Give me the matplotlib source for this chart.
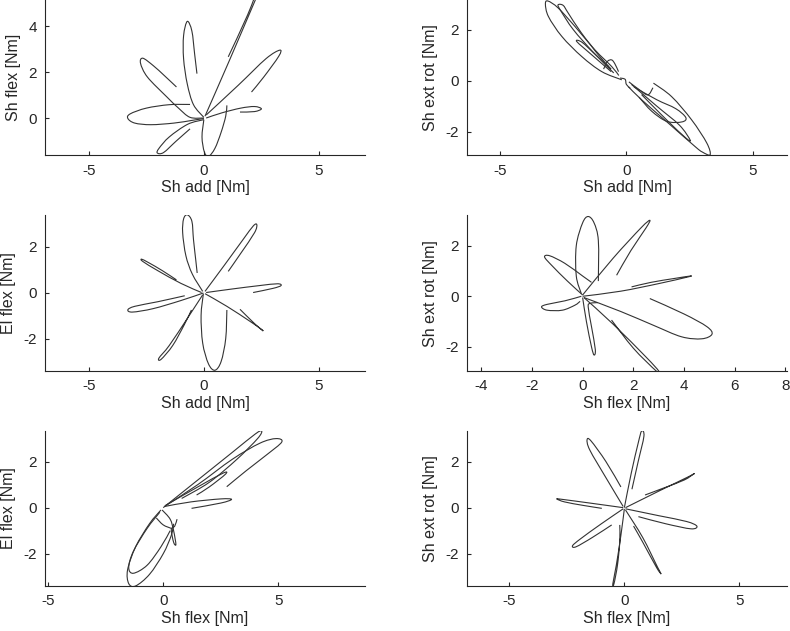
import numpy as np
import matplotlib
matplotlib.use("Agg")
import matplotlib.pyplot as plt
from matplotlib.path import Path
from matplotlib.patches import PathPatch

plt.rcParams['font.family'] = ['Liberation Sans', 'DejaVu Sans']
plt.rcParams['axes.unicode_minus'] = False

# each loop is a list of (x, y) points, in Nm
sh_add_sh_flex = [
    [(0.0, 0.05), (-0.45, 0.6), (-0.72, 1.5), (-0.88, 2.6), (-0.88, 3.6), (-0.72, 4.22), (-0.52, 3.8), (-0.4, 2.8), (-0.3, 1.95)],
    [(0.05, 0.1), (1.1, 2.5), (2.3, 5.3), (2.6, 6.0), (2.45, 5.9), (1.9, 4.5), (1.06, 2.68)],
    [(0.1, 0.15), (1.5, 1.45), (2.7, 2.6), (3.3, 2.97), (3.25, 2.7), (2.6, 1.8), (2.07, 1.15)],
    [(0.1, 0.02), (0.8, 0.25), (1.6, 0.45), (2.2, 0.52), (2.5, 0.42), (2.2, 0.3), (1.57, 0.28)],
    [(0.0, -0.05), (-0.08, -0.8), (0.02, -1.45), (0.2, -1.65), (0.48, -1.3), (0.75, -0.6), (0.95, 0.1), (1.0, 0.57)],
    [(0.0, -0.05), (-0.7, -0.25), (-1.5, -0.8), (-1.95, -1.3), (-2.02, -1.5), (-1.75, -1.48), (-1.2, -0.98), (-0.6, -0.45)],
    [(-0.6, 0.61), (-1.5, 0.6), (-2.5, 0.45), (-3.2, 0.2), (-3.3, 0.0), (-3.0, -0.2), (-2.3, -0.27), (-1.3, -0.2), (-0.5, -0.08), (0.0, 0.0)],
    [(0.0, 0.02), (-0.6, 0.05), (-1.1, 0.45), (-1.6, 0.93), (-2.45, 1.8), (-2.75, 2.4), (-2.65, 2.62), (-2.2, 2.3), (-1.7, 1.85), (-1.19, 1.37)],
]

sh_add_sh_rot = [
    [(-0.3, 0.2), (-0.58, 0.55), (-1.24, 1.2), (-2.03, 2.12), (-2.7, 2.85), (-3.1, 3.12), (-3.2, 3.0), (-3.08, 2.51), (-2.55, 1.73), (-1.76, 0.94), (-0.97, 0.35), (-0.18, 0.03)],
    [(-0.5, 0.3), (-1.3, 1.1), (-2.1, 2.0), (-2.6, 2.75), (-2.7, 2.97), (-2.5, 2.95), (-2.3, 2.65), (-1.8, 1.9), (-1.1, 1.0), (-0.6, 0.45)],
    [(-0.6, 0.35), (-1.3, 0.95), (-1.96, 1.53), (-1.75, 1.5), (-1.2, 1.0), (-0.7, 0.55)],
    [(-0.9, 0.45), (-0.75, 0.75), (-0.58, 0.81), (-0.45, 0.65), (-0.31, 0.35)],
    [(1.07, -0.1), (1.79, -0.63), (2.58, -1.54), (3.18, -2.45), (3.31, -2.91), (3.0, -2.8), (2.72, -2.59), (1.66, -1.67), (0.61, -0.76), (0.08, -0.24)],
    [(0.2, -0.15), (1.2, -1.0), (2.1, -1.75), (2.52, -2.33), (2.35, -2.25), (1.6, -1.55), (0.6, -0.55)],
    [(0.3, -0.25), (1.2, -0.75), (1.95, -1.1), (2.35, -1.45), (2.2, -1.62), (1.6, -1.6), (1.0, -1.2), (0.5, -0.65)],
    [(0.1, -0.05), (0.5, -0.35), (0.85, -0.56), (1.05, -0.28)],
    [(-0.25, 0.1), (-0.05, 0.05), (0.0, -0.15), (0.15, -0.3)],
]

sh_add_el_flex = [
    [(-0.05, 0.05), (-0.5, 0.8), (-0.78, 1.6), (-0.92, 2.6), (-0.88, 3.2), (-0.72, 3.38), (-0.52, 3.1), (-0.45, 2.3), (-0.35, 1.4), (-0.29, 0.85)],
    [(0.05, 0.05), (0.9, 1.2), (1.7, 2.3), (2.15, 2.9), (2.3, 2.95), (2.2, 2.6), (1.6, 1.7), (1.06, 0.92)],
    [(0.1, 0.0), (1.2, 0.15), (2.4, 0.3), (3.2, 0.38), (3.35, 0.3), (3.0, 0.18), (2.14, 0.0)],
    [(0.05, -0.05), (1.0, -0.6), (2.0, -1.25), (2.5, -1.6), (2.55, -1.65), (2.2, -1.35), (1.57, -0.73)],
    [(-0.02, -0.05), (-0.12, -1.0), (-0.05, -2.2), (0.2, -3.1), (0.48, -3.38), (0.75, -3.0), (0.95, -2.0), (1.0, -0.76)],
    [(-0.05, -0.1), (-0.7, -1.1), (-1.5, -2.3), (-1.95, -2.85), (-1.85, -2.9), (-1.35, -2.3), (-0.85, -1.4), (-0.54, -0.76)],
    [(-0.02, -0.02), (-1.0, -0.35), (-2.2, -0.7), (-3.1, -0.85), (-3.3, -0.75), (-3.0, -0.6), (-2.0, -0.4), (-0.83, -0.14)],
    [(-0.1, 0.0), (-1.0, 0.4), (-2.0, 0.95), (-2.65, 1.35), (-2.7, 1.45), (-2.4, 1.3), (-1.8, 0.95), (-1.19, 0.55)],
]

sh_flex_sh_rot = [
    [(-0.05, 0.1), (-0.25, 0.8), (-0.25, 2.0), (0.0, 2.9), (0.22, 3.15), (0.45, 2.9), (0.62, 2.2), (0.62, 0.6)],
    [(0.0, 0.05), (1.2, 1.5), (2.3, 2.7), (2.65, 3.0), (2.5, 2.7), (1.9, 1.8), (1.34, 0.83)],
    [(0.0, 0.0), (1.5, 0.2), (3.0, 0.5), (4.1, 0.75), (4.25, 0.8), (3.6, 0.7), (2.7, 0.55), (1.93, 0.37)],
    [(0.05, -0.05), (1.5, -0.6), (2.8, -1.15), (3.9, -1.6), (4.7, -1.68), (5.1, -1.5), (4.9, -1.2), (4.0, -0.7), (2.65, -0.09)],
    [(0.05, -0.05), (1.2, -1.1), (2.5, -2.4), (3.0, -2.95), (2.9, -2.95), (2.0, -2.05), (1.14, -0.94)],
    [(0.0, -0.05), (0.15, -1.0), (0.35, -2.0), (0.45, -2.32), (0.5, -2.1), (0.35, -1.2), (0.22, -0.42), (0.3, -0.28), (0.6, -0.25)],
    [(-0.05, 0.0), (-0.7, -0.18), (-1.4, -0.32), (-1.62, -0.42), (-1.4, -0.55), (-0.8, -0.55), (-0.3, -0.35), (-0.1, -0.2)],
    [(0.0, 0.05), (-0.6, 0.6), (-1.2, 1.2), (-1.5, 1.55), (-1.3, 1.6), (-0.7, 1.3), (0.0, 0.8), (0.35, 0.55)],
]

sh_flex_el_flex = [
    [(0.0, 0.0), (1.5, 1.2), (3.0, 2.4), (4.0, 3.2), (4.28, 3.33), (4.1, 3.0), (3.2, 2.1), (2.0, 1.1), (0.8, 0.4)],
    [(0.05, 0.05), (1.5, 1.0), (3.0, 2.1), (4.2, 2.8), (4.9, 3.0), (5.15, 2.85), (4.5, 2.3), (3.6, 1.6), (2.76, 0.91)],
    [(0.1, 0.1), (1.5, 0.9), (2.6, 1.5), (2.7, 1.45), (2.0, 0.9), (1.45, 0.55)],
    [(0.05, 0.05), (1.2, 0.25), (2.5, 0.38), (2.97, 0.36), (2.5, 0.2), (1.23, -0.03)],
    [(-0.1, -0.1), (-0.6, -0.7), (-1.2, -1.7), (-1.55, -2.7), (-1.5, -3.3), (-1.2, -3.4), (-0.6, -2.9), (0.0, -2.0), (0.35, -1.2), (0.45, -0.7)],
    [(-0.15, -0.2), (-0.7, -0.9), (-1.3, -1.9), (-1.5, -2.6), (-1.3, -2.85), (-0.7, -2.5), (-0.1, -1.7), (0.3, -1.0)],
    [(-0.05, -0.1), (0.3, -0.5), (0.45, -1.0), (0.55, -1.6), (0.45, -1.5), (0.35, -0.95), (0.5, -0.8), (0.6, -0.5)],
    [(-0.3, -0.45), (0.0, -0.75), (0.35, -0.9)],
]

sh_flex_sh_rot_2 = [
    [(0.0, 0.0), (0.3, 1.5), (0.6, 2.8), (0.75, 3.33), (0.85, 3.1), (0.6, 2.0), (0.33, 0.8)],
    [(-0.05, 0.05), (-0.8, 1.3), (-1.5, 2.5), (-1.62, 2.95), (-1.45, 2.9), (-0.8, 2.0), (-0.15, 0.9)],
    [(0.05, 0.0), (1.5, 0.72), (2.8, 1.35), (3.02, 1.47), (2.6, 1.2), (1.7, 0.85), (0.9, 0.55)],
    [(0.05, -0.05), (1.5, -0.35), (2.7, -0.6), (3.15, -0.8), (2.9, -0.92), (1.8, -0.7), (0.61, -0.39)],
    [(0.05, -0.1), (0.8, -1.3), (1.45, -2.6), (1.6, -2.88), (1.4, -2.6), (0.8, -1.5), (0.4, -0.8)],
    [(0.0, -0.05), (-0.15, -1.2), (-0.35, -2.5), (-0.5, -3.3), (-0.45, -3.3), (-0.3, -2.5), (-0.2, -1.5), (-0.2, -0.75)],
    [(-0.05, -0.05), (-1.0, -0.7), (-1.9, -1.35), (-2.25, -1.65), (-2.1, -1.7), (-1.4, -1.3), (-0.55, -0.75)],
    [(-0.05, 0.0), (-1.5, 0.2), (-2.7, 0.36), (-2.94, 0.38), (-2.6, 0.25), (-1.8, 0.1), (-0.98, -0.03)],
]

panels = [
    (sh_add_sh_flex, 'Sh add [Nm]', 'Sh flex [Nm]', (-6.9, 7.0), (-1.6, 5.15), [-5, 0, 5], [0, 2, 4]),
    (sh_add_sh_rot, 'Sh add [Nm]', 'Sh ext rot [Nm]', (-6.3, 6.35), (-2.93, 3.16), [-5, 0, 5], [-2, 0, 2]),
    (sh_add_el_flex, 'Sh add [Nm]', 'El flex [Nm]', (-6.9, 7.0), (-3.4, 3.35), [-5, 0, 5], [-2, 0, 2]),
    (sh_flex_sh_rot, 'Sh flex [Nm]', 'Sh ext rot [Nm]', (-4.56, 8.06), (-2.94, 3.19), [-4, -2, 0, 2, 4, 6, 8], [-2, 0, 2]),
    (sh_flex_el_flex, 'Sh flex [Nm]', 'El flex [Nm]', (-5.14, 8.77), (-3.39, 3.33), [-5, 0, 5], [-2, 0, 2]),
    (sh_flex_sh_rot_2, 'Sh flex [Nm]', 'Sh ext rot [Nm]', (-6.84, 7.07), (-3.39, 3.33), [-5, 0, 5], [-2, 0, 2]),
]


def smooth_path(pts):
    # catmull-rom through the read points, drawn as cubic bezier
    p = np.asarray(pts, float)
    ext = np.vstack([p[0], p, p[-1]])
    verts = [p[0]]
    codes = [Path.MOVETO]
    for i in range(1, len(p)):
        p0, p1, p2, p3 = ext[i - 1], ext[i], ext[i + 1], ext[i + 2]
        verts += [p1 + (p2 - p0) / 6, p2 - (p3 - p1) / 6, p2]
        codes += [Path.CURVE4] * 3
    return Path(verts, codes)


W, H = 790, 631
fig = plt.figure(figsize=(W / 100, H / 100), dpi=100)

col_x = [45, 467]
row_y = [(0, 155.3), (215.5, 370.7), (431, 585.7)]
txt = '#262626'

for k, (loops, xl, yl, xlim, ylim, xt, yt) in enumerate(panels):
    r, c = divmod(k, 2)
    top, bot = row_y[r]
    ax = fig.add_axes([col_x[c] / W, 1 - bot / H, 320 / W, (bot - top) / H])
    for pts in loops:
        ax.add_patch(PathPatch(smooth_path(pts), fill=False, lw=0.8, edgecolor='#333333'))
    ax.set_xlim(*xlim)
    ax.set_ylim(*ylim)
    ax.set_xticks(xt)
    ax.set_yticks(yt)
    ax.set_xlabel(xl, fontsize=11.5, color=txt, labelpad=2)
    ax.set_ylabel(yl, fontsize=11.5, color=txt, labelpad=5)
    for s in ['top', 'right']:
        ax.spines[s].set_visible(False)
    for s in ['left', 'bottom']:
        ax.spines[s].set_color(txt)
        ax.spines[s].set_linewidth(0.8)
    ax.tick_params(direction='in', length=3, width=0.8, colors=txt, labelsize=11, pad=6)

fig.savefig('out.png', dpi=100)
